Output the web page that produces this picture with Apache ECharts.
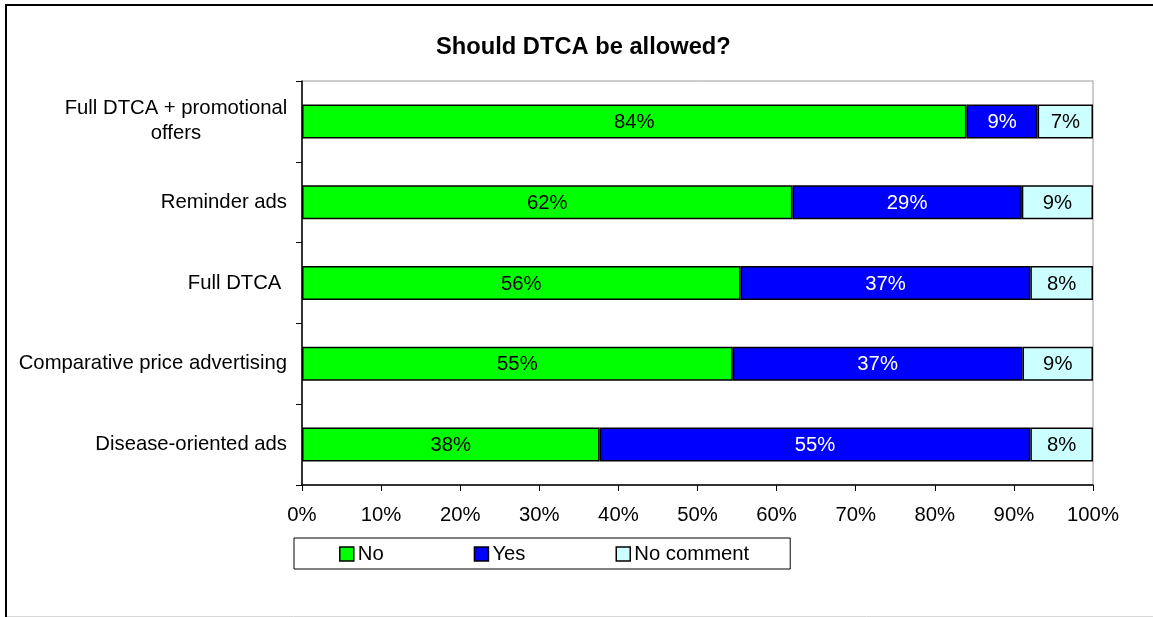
<!DOCTYPE html>
<html>
<head>
<meta charset="utf-8">
<script src="https://cdn.jsdelivr.net/npm/echarts@6/dist/echarts.min.js"></script>
<style>
html,body{margin:0;padding:0;background:#fff;}
#chart{width:1153px;height:617px;}
</style>
</head>
<body>
<div id="chart"></div>
<script>
// Categories, top to bottom
var categories = [
  'Full DTCA + promotional offers',
  'Reminder ads',
  'Full DTCA ',
  'Comparative price advertising',
  'Disease-oriented ads'
];
// Shown percentages (rows do not always sum exactly to 100; bars are drawn as 100% stacked)
var noValues = [84, 62, 56, 55, 38];
var yesValues = [9, 29, 37, 37, 55];
var noCommentValues = [7, 9, 8, 9, 8];
var xTickLabels = ['0%','10%','20%','30%','40%','50%','60%','70%','80%','90%','100%'];
var seriesNames = ['No', 'Yes', 'No comment'];

var rowTotals = noValues.map(function (v, i) { return v + yesValues[i] + noCommentValues[i]; });
function share(arr) {
  return arr.map(function (v, i) { return { value: v / rowTotals[i] * 100, raw: v }; });
}

var FONT = 'Liberation Sans, Arial, sans-serif';
var FS = 20.3;

function mkSeries(name, arr, color, labelColor) {
  return {
    name: name,
    type: 'bar',
    stack: 'total',
    barWidth: 34,
    data: share(arr),
    itemStyle: { color: color, borderColor: '#000', borderWidth: 1.5 },
    label: {
      show: true,
      position: 'inside',
      offset: [0, 1],
      color: labelColor,
      fontFamily: FONT,
      fontSize: FS,
      formatter: function (p) { return p.data.raw + '%'; }
    },
    emphasis: { disabled: true },
    animation: false
  };
}

var chart = echarts.init(document.getElementById('chart'), null, { renderer: 'canvas' });
chart.setOption({
  backgroundColor: '#fff',
  animation: false,
  title: {
    text: 'Should DTCA be allowed?',
    left: 436,
    top: 35,
    padding: 0,
    textStyle: { fontFamily: FONT, fontSize: 23.7, fontWeight: 'bold', color: '#000' }
  },
  legend: {
    data: seriesNames,
    left: 294,
    top: 538,
    padding: [6, 41, 5, 45],
    borderColor: '#000',
    borderWidth: 1,
    itemGap: 90,
    itemWidth: 14,
    itemHeight: 14,
    icon: 'rect',
    itemStyle: { borderColor: '#000', borderWidth: 1.5 },
    textStyle: { fontFamily: FONT, fontSize: FS, color: '#000', padding: [0, 0, 0, -1] },
    selectedMode: false
  },
  grid: {
    left: 302,
    right: 60,
    top: 81,
    bottom: 132,
    show: true,
    borderColor: '#9a9a9a',
    borderWidth: 1,
    backgroundColor: 'transparent',
    containLabel: false
  },
  xAxis: {
    type: 'value',
    min: 0,
    max: 100,
    interval: 10,
    axisLine: { show: true, lineStyle: { color: '#000', width: 1.5 } },
    axisTick: { show: true, length: 6, lineStyle: { color: '#000' } },
    splitLine: { show: false },
    axisLabel: {
      margin: 20,
      fontFamily: FONT,
      fontSize: FS,
      color: '#000',
      formatter: function (v) { return xTickLabels[Math.round(v / 10)]; }
    }
  },
  yAxis: {
    type: 'category',
    inverse: true,
    data: categories,
    axisLine: { show: true, lineStyle: { color: '#000', width: 1.5 } },
    axisTick: { show: true, length: 6, lineStyle: { color: '#000' } },
    axisLabel: {
      margin: 15,
      fontFamily: FONT,
      fontSize: FS,
      color: '#000',
      formatter: function (v) {
        if (v === 'Full DTCA + promotional offers') {
          return '{c|Full DTCA + promotional}\n{c|offers}';
        }
        return v;
      },
      rich: {
        c: { width: 222, align: 'center', fontFamily: FONT, fontSize: FS, lineHeight: 25, color: '#000' }
      }
    }
  },
  series: [
    mkSeries(seriesNames[0], noValues, '#00ff00', '#000'),
    mkSeries(seriesNames[1], yesValues, '#0000ff', '#fff'),
    mkSeries(seriesNames[2], noCommentValues, '#ccffff', '#000')
  ],
  graphic: [
    { type: 'line', silent: true, shape: { x1: 6, y1: 4, x2: 6, y2: 617 }, style: { stroke: '#000', lineWidth: 2 } },
    { type: 'line', silent: true, shape: { x1: 5, y1: 5, x2: 1153, y2: 5 }, style: { stroke: '#000', lineWidth: 2 } },
    { type: 'line', silent: true, shape: { x1: 7, y1: 616.5, x2: 1153, y2: 616.5 }, style: { stroke: '#d8d8d8', lineWidth: 1 } }
  ]
});
</script>
</body>
</html>
